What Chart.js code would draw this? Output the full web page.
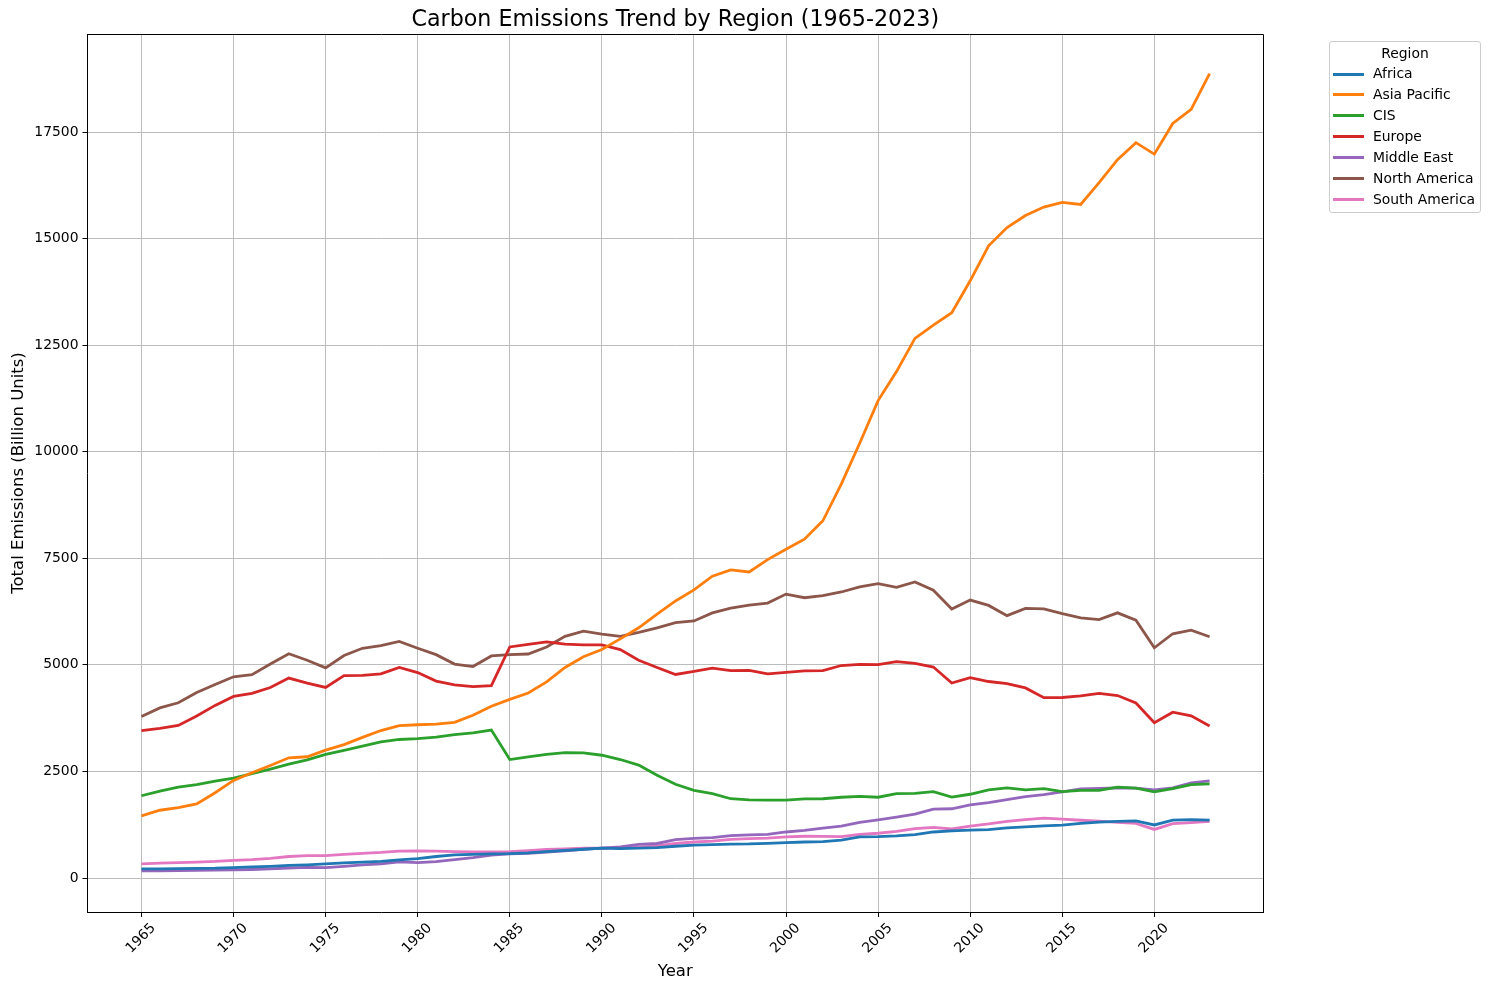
<!DOCTYPE html>
<html>
<head>
<meta charset="utf-8">
<title>Carbon Emissions Trend by Region</title>
<script src="https://cdn.jsdelivr.net/npm/chart.js@4"></script>
<style>
  body { margin: 0; background: #fff; font-family: "DejaVu Sans", sans-serif; }
  #wrap { position: relative; width: 1490px; height: 990px; }
  #legend { position: absolute; left: 1329px; top: 41px; width: 150px; height: 170px;
            border: 1px solid #ccc; border-radius: 3px; font-size: 13.9px; color: #000; }
  #legend .head { text-align: center; height: 21px; line-height: 22px; }
  #legend .row { height: 20.95px; line-height: 20.95px; white-space: nowrap; }
  #legend .swatch { display: inline-block; width: 31px; height: 3px; margin: 0 9px 0 3px; vertical-align: middle; }
</style>
</head>
<body>
<div id="wrap">
  <canvas id="myChart" width="1490" height="990"></canvas>
  <div id="legend"></div>
</div>
<script>
const years = [];
for (let y = 1965; y <= 2023; y++) years.push(y);

const xTicks = [1965, 1970, 1975, 1980, 1985, 1990, 1995, 2000, 2005, 2010, 2015, 2020];
const yTicks = [0, 2500, 5000, 7500, 10000, 12500, 15000, 17500];

const africa = [
  215, 215, 220, 225, 230, 245, 260, 275, 295, 310, 330, 355, 375, 390, 425, 455, 505, 545, 555, 565,
  570, 590, 620, 650, 675, 700, 690, 700, 715, 745, 770, 785, 795, 800, 815, 830, 845, 855, 890, 965, 970,
  990, 1020, 1080, 1105, 1125, 1135, 1175, 1200, 1225, 1240, 1280, 1310, 1330, 1340, 1245, 1360, 1370, 1360
];
const asiaPacific = [
  1460, 1590, 1650, 1740, 2000, 2290, 2470, 2640, 2820, 2845, 3000, 3130, 3300, 3460, 3575, 3595, 3610, 3650, 3820, 4030,
  4190, 4340, 4600, 4940, 5190, 5360, 5610, 5870, 6190, 6500, 6760, 7080, 7230, 7180, 7470, 7710, 7950, 8380, 9240, 10200, 11200,
  11880, 12660, 12970, 13260, 14010, 14830, 15260, 15540, 15740, 15850, 15800, 16310, 16850, 17250, 16980, 17700, 18030, 18870
];
const cis = [
  1930, 2040, 2135, 2190, 2275, 2345, 2450, 2555, 2670, 2770, 2900, 2995, 3095, 3195, 3250, 3270, 3305, 3365, 3405, 3470,
  2780, 2840, 2900, 2940, 2935, 2880, 2780, 2650, 2410, 2200, 2055, 1980, 1860, 1835, 1825, 1825, 1855, 1860, 1895, 1915, 1895,
  1980, 1985, 2025, 1900, 1965, 2070, 2115, 2070, 2095, 2025, 2055, 2055, 2130, 2110, 2020, 2095, 2190, 2210
];
const europe = [
  3460, 3510, 3580, 3800, 4050, 4260, 4330, 4470, 4690, 4570, 4470, 4750, 4755, 4790, 4940, 4820, 4620, 4530, 4490, 4515,
  5420, 5480, 5540, 5485, 5470, 5470, 5360, 5110, 4940, 4775, 4845, 4925, 4865, 4870, 4790, 4825, 4860, 4865, 4985, 5010, 5005,
  5075, 5035, 4950, 4575, 4700, 4610, 4560, 4460, 4230, 4235, 4275, 4330, 4280, 4105, 3645, 3890, 3805, 3565
];
const middleEast = [
  170, 170, 175, 180, 185, 190, 200, 215, 235, 250, 245, 275, 310, 330, 380, 360, 385, 430, 480, 540,
  565, 580, 610, 640, 670, 700, 730, 790, 810, 900, 930, 950, 995, 1010, 1025, 1080, 1120, 1170, 1215, 1305, 1365,
  1430, 1500, 1615, 1625, 1715, 1770, 1840, 1910, 1955, 2020, 2090, 2100, 2115, 2110, 2065, 2115, 2230, 2280
];
const northAmerica = [
  3790, 3990, 4110, 4350, 4540, 4720, 4770, 5020, 5260, 5110, 4930, 5220, 5390, 5450, 5550, 5390, 5240, 5020, 4960, 5210,
  5240, 5255, 5420, 5670, 5790, 5720, 5670, 5760, 5870, 5990, 6030, 6220, 6330, 6400, 6450, 6660, 6575, 6625, 6710, 6830, 6905,
  6820, 6945, 6750, 6310, 6520, 6395, 6155, 6325, 6315, 6200, 6100, 6060, 6220, 6050, 5400, 5730, 5815, 5660
];
const southAmerica = [
  330, 350, 360, 375, 390, 415, 430, 460, 505, 525, 525, 555, 580, 600, 630, 635, 630, 620, 610, 615,
  620, 645, 670, 685, 700, 700, 710, 725, 755, 810, 845, 865, 905, 925, 935, 965, 980, 975, 970, 1025, 1050,
  1095, 1160, 1190, 1150, 1220, 1270, 1330, 1370, 1405, 1380, 1355, 1335, 1305, 1280, 1140, 1275, 1300, 1330
];

const regions = ['Africa', 'Asia Pacific', 'CIS', 'Europe', 'Middle East', 'North America', 'South America'];
const colors = ['#1f77b4', '#ff7f0e', '#2ca02c', '#d62728', '#9467bd', '#8c564b', '#e377c2'];
const series = [africa, asiaPacific, cis, europe, middleEast, northAmerica, southAmerica];

const fontName = '"DejaVu Sans", sans-serif';
const gridColor = '#bcbcbc';

// top and right spines, the scales only draw their own side
const frame = {
  id: 'frame',
  afterDatasetsDraw(chart) {
    const a = chart.chartArea, c = chart.ctx;
    const top = Math.round(a.top) + 0.5, right = Math.round(a.right) + 0.5;
    c.save();
    c.strokeStyle = '#000';
    c.lineWidth = 1;
    c.beginPath();
    c.moveTo(a.left, top);
    c.lineTo(right, top);
    c.lineTo(right, a.bottom + 0.5);
    c.stroke();
    c.restore();
  }
};

const config = {
  type: 'line',
  data: {
    labels: years,
    datasets: regions.map((name, i) => ({
      label: name,
      data: years.map((y, j) => ({ x: y, y: series[i][j] })),
      borderColor: colors[i],
      backgroundColor: colors[i],
      borderWidth: 2.8,
      pointRadius: 0,
      tension: 0
    }))
  },
  options: {
    responsive: false,
    animation: false,
    parsing: false,
    layout: { padding: { right: 227 } },
    scales: {
      x: {
        type: 'linear',
        min: 1962.07,
        max: 2025.9,
        afterBuildTicks(axis) { axis.ticks = xTicks.map(v => ({ value: v })); },
        afterFit(axis) { axis.height = 78; },
        title: { display: true, text: 'Year', color: '#000', font: { family: fontName, size: 16.5 }, padding: { bottom: 8 } },
        ticks: {
          color: '#000',
          font: { family: fontName, size: 13.9 },
          minRotation: 45,
          maxRotation: 45,
          labelOffset: 12,
          padding: 3,
          callback: v => String(v)
        },
        grid: { color: gridColor, lineWidth: 1, tickColor: '#000', tickLength: 5 },
        border: { color: '#000', width: 1 }
      },
      y: {
        min: -797,
        max: 19798,
        afterBuildTicks(axis) { axis.ticks = yTicks.map(v => ({ value: v })); },
        afterFit(axis) { axis.width = 87.5; },
        title: { display: true, text: 'Total Emissions (Billion Units)', color: '#000', font: { family: fontName, size: 16.5 }, padding: { top: 9 } },
        ticks: {
          color: '#000',
          font: { family: fontName, size: 13.9 },
          padding: 4,
          callback: v => String(v)
        },
        grid: { color: gridColor, lineWidth: 1, tickColor: '#000', tickLength: 5 },
        border: { color: '#000', width: 1 }
      }
    },
    plugins: {
      legend: { display: false },
      tooltip: { enabled: false },
      title: {
        display: true,
        fullSize: false,
        text: 'Carbon Emissions Trend by Region (1965-2023)',
        color: '#000',
        font: { family: fontName, size: 22.2, weight: 'normal', lineHeight: 1.2 },
        padding: { top: 7.4, bottom: 0 }
      }
    }
  },
  plugins: [frame]
};

window.onload = function() {
  const ctx = document.getElementById('myChart').getContext('2d');
  new Chart(ctx, config);

  const box = document.getElementById('legend');
  let html = '<div class="head">Region</div>';
  regions.forEach((name, i) => {
    html += '<div class="row"><span class="swatch" style="background:' + colors[i] + '"></span>' + name + '</div>';
  });
  box.innerHTML = html;
};
</script>
</body>
</html>
